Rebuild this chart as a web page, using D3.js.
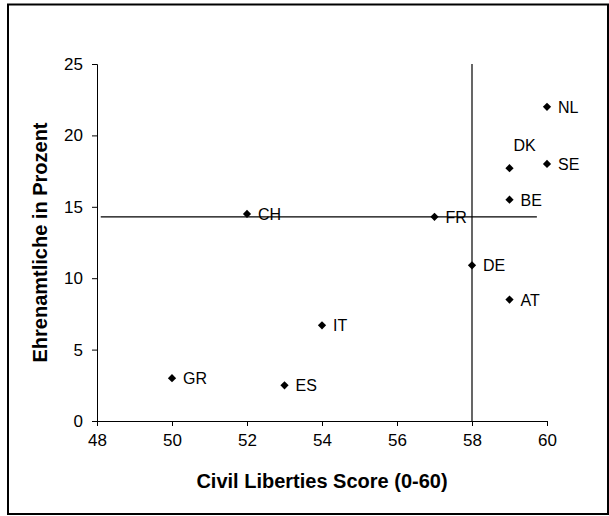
<!DOCTYPE html>
<html>
<head>
<meta charset="utf-8">
<script src="https://cdn.jsdelivr.net/npm/d3@7"></script>
<style>
  html, body { margin: 0; padding: 0; background: #fff; }
  svg { display: block; }
  text { font-family: Arial, "Liberation Sans", sans-serif; fill: #000; }
</style>
</head>
<body>
<svg id="chart" width="609" height="516"></svg>
<script>
// ---- data ----
const countries = ["GR", "ES", "IT", "CH", "FR", "DE", "AT", "BE", "DK", "SE", "NL"];
const libertyScores = [50, 53, 54, 52, 57, 58, 59, 59, 59, 60, 60];
const volunteerShares = [3.0, 2.5, 6.7, 14.5, 14.3, 10.9, 8.5, 15.5, 17.7, 18.0, 22.0];
const xTicks = [48, 50, 52, 54, 56, 58, 60];
const yTicks = [0, 5, 10, 15, 20, 25];
const xTitle = "Civil Liberties Score (0-60)";
const yTitle = "Ehrenamtliche in Prozent";
const refX = 58;            // vertical reference line (score)
const refY = 14.3;          // horizontal reference line (percent)
const refYSpan = [48.1, 59.73];

// ---- layout ----
const svg = d3.select("#chart");
const x = d3.scaleLinear().domain([48, 60]).range([97, 547]);
const y = d3.scaleLinear().domain([0, 25]).range([421, 64]);

// outer frame
svg.append("rect")
  .attr("x", 8).attr("y", 4.5).attr("width", 600).attr("height", 509.5)
  .attr("fill", "none").attr("stroke", "#000").attr("stroke-width", 2);

// axes
const xAxis = svg.append("g")
  .attr("transform", `translate(0,${y(0)})`)
  .call(d3.axisBottom(x).tickValues(xTicks).tickSize(5).tickPadding(8).tickFormat(d3.format("d")));
const yAxis = svg.append("g")
  .attr("transform", `translate(${x(48)},0)`)
  .call(d3.axisLeft(y).tickValues(yTicks).tickSize(5).tickPadding(9).tickFormat(d3.format("d")));
[xAxis, yAxis].forEach(g => {
  g.select(".domain").attr("stroke", "#000").attr("stroke-width", 1);
  g.selectAll(".tick line").attr("stroke", "#000");
  g.selectAll(".tick text").attr("font-size", 17).attr("font-family", "Arial, 'Liberation Sans', sans-serif").attr("fill", "#000");
});

// reference lines
svg.append("line")
  .attr("x1", x(refX)).attr("x2", x(refX))
  .attr("y1", y(0)).attr("y2", y(25))
  .attr("stroke", "#000").attr("stroke-width", 1.2);
svg.append("line")
  .attr("x1", x(refYSpan[0])).attr("x2", x(refYSpan[1]))
  .attr("y1", y(refY)).attr("y2", y(refY))
  .attr("stroke", "#000").attr("stroke-width", 1.2);

// points
const points = countries.map((c, i) => ({ c, sx: libertyScores[i], sy: volunteerShares[i] }));
const diamond = d3.symbol().type(d3.symbolSquare).size(34);
svg.append("g").selectAll("path").data(points).join("path")
  .attr("d", diamond)
  .attr("transform", d => `translate(${x(d.sx)},${y(d.sy)}) rotate(45)`)
  .attr("fill", "#000");

// labels (DK sits above its marker)
const labelOffset = { DK: [4, -17.5] };
svg.append("g").selectAll("text").data(points).join("text")
  .attr("x", d => x(d.sx) + (labelOffset[d.c] ? labelOffset[d.c][0] : 11))
  .attr("y", d => y(d.sy) + (labelOffset[d.c] ? labelOffset[d.c][1] : 6))
  .attr("font-size", 16)
  .text(d => d.c);

// axis titles
svg.append("text")
  .attr("x", (x(48) + x(60)) / 2).attr("y", 488)
  .attr("text-anchor", "middle").attr("font-size", 20).attr("font-weight", "bold")
  .text(xTitle);
svg.append("text")
  .attr("transform", `translate(46.5,${(y(0) + y(25)) / 2}) rotate(-90)`)
  .attr("text-anchor", "middle").attr("font-size", 20).attr("font-weight", "bold")
  .text(yTitle);
</script>
</body>
</html>
